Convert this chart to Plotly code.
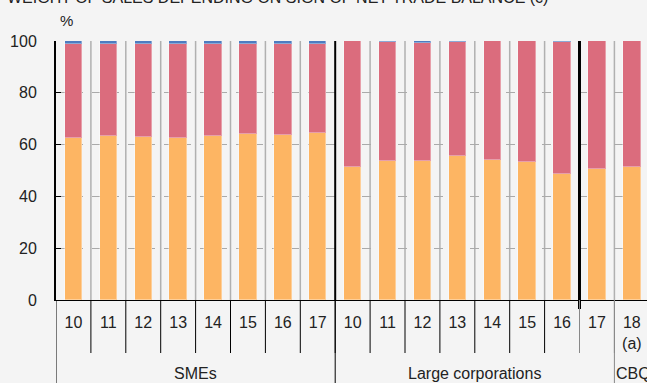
import plotly.graph_objects as go

# ---- data ----
year_labels = ["10", "11", "12", "13", "14", "15", "16", "17",
               "10", "11", "12", "13", "14", "15", "16", "17",
               "18<br>(a)"]
group_names = ["SMEs", "Large corporations", "CBQ"]
group_sizes = [8, 8, 1]

orange_vals = [62.6, 63.4, 62.8, 62.7, 63.2, 64.0, 63.6, 64.5,
               51.5, 53.8, 53.5, 55.7, 54.2, 53.2, 48.8, 50.7,
               51.5]
blue_vals = [1.3, 1.1, 1.3, 1.3, 1.1, 1.1, 1.1, 1.1,
             0.0, 0.2, 0.8, 0.2, 0.0, 0.0, 0.2, 0.1,
             0.0]
red_vals = [round(100 - o - b, 2) for o, b in zip(orange_vals, blue_vals)]
y_ticks = [0, 20, 40, 60, 80, 100]

# ---- style ----
BG = "#F4F4F4"
ORANGE = "#FDB563"
RED = "#DB6C7D"
BLUE = "#4D7CC0"
TXT = "#222222"
FONT = "Liberation Sans"

x = list(range(len(year_labels)))
fig = go.Figure()
for name, vals, col in [("Orange", orange_vals, ORANGE),
                        ("Red", red_vals, RED),
                        ("Blue", blue_vals, BLUE)]:
    fig.add_trace(go.Bar(x=x, y=vals, name=name, width=0.5,
                         marker=dict(color=col,
                                     line=dict(color="rgba(255,255,255,0.35)", width=1)),
                         showlegend=False))

W, H = 647, 383
L, R, T, B = 56, 0, 41, 83
plot_h = H - T - B

def py(pix):
    return (H - B - pix) / plot_h

shapes = []
n = len(year_labels)
# separators inside plot
for i in range(n - 1):
    b = i + 0.5
    if b in (7.5, 14.5):
        continue
    shapes.append(dict(type="line", xref="x", yref="paper", x0=b, x1=b, y0=0, y1=1,
                       line=dict(color="#B0B0B0", width=1.5), layer="below"))
shapes.append(dict(type="line", xref="x", yref="paper", x0=7.5, x1=7.5, y0=0, y1=1,
                   line=dict(color="black", width=2)))
shapes.append(dict(type="line", xref="x", yref="paper", x0=14.5, x1=14.5, y0=py(309), y1=1,
                   line=dict(color="black", width=3)))
# separators under the axis (year row)
for i in range(n - 1):
    b = i + 0.5
    col = "#888888" if b >= 14.5 else "black"
    shapes.append(dict(type="line", xref="x", yref="paper", x0=b, x1=b, y0=py(353), y1=0,
                       line=dict(color=col, width=1)))
# group dividers
pos = -0.5
for gi, s in enumerate(group_sizes):
    col = "#888888" if pos > 10 else "black"
    shapes.append(dict(type="line", xref="x", yref="paper", x0=pos, x1=pos, y0=py(H + 5), y1=0,
                       line=dict(color=col, width=1)))
    pos += s

annotations = []
pos = -0.5
for gname, s in zip(group_names, group_sizes):
    if gname == "CBQ":
        annotations.append(dict(x=pos, y=py(374), xref="x", yref="paper", text=gname,
                                showarrow=False, xanchor="left", yanchor="middle",
                                font=dict(size=16, color=TXT, family=FONT)))
    else:
        annotations.append(dict(x=pos + s / 2, y=py(374), xref="x", yref="paper", text=gname,
                                showarrow=False, xanchor="center", yanchor="middle",
                                font=dict(size=16, color=TXT, family=FONT)))
    pos += s

annotations.append(dict(x=(66 - L) / (W - L - R), y=py(21), xref="paper", yref="paper",
                        text="%", showarrow=False, xanchor="center", yanchor="middle",
                        font=dict(size=15, color=TXT, family=FONT)))
annotations.append(dict(x=(5 - L) / (W - L - R), y=py(8), xref="paper", yref="paper",
                        text="WEIGHT OF SALES DEPENDING ON SIGN OF NET TRADE BALANCE (c)",
                        showarrow=False, xanchor="left", yanchor="bottom",
                        font=dict(size=16, color=TXT, family=FONT)))

cell = 34.9
span = (W - L - R) / cell

fig.update_layout(
    width=W, height=H, autosize=False,
    margin=dict(l=L, r=R, t=T, b=B, pad=0),
    paper_bgcolor=BG, plot_bgcolor=BG,
    barmode="stack", bargap=0,
    font=dict(family=FONT, size=16, color=TXT),
    shapes=shapes, annotations=annotations,
    xaxis=dict(range=[-0.5, -0.5 + span], tickvals=x, ticktext=year_labels,
               showgrid=False, zeroline=False, showline=True, linecolor="black",
               linewidth=1, ticks="", ticklabelstandoff=8,
               tickfont=dict(size=16, color=TXT, family=FONT)),
    yaxis=dict(range=[0, 100], tickvals=y_ticks, showgrid=True, gridcolor="#AAAAAA",
               griddash="dash", gridwidth=1, zeroline=False, showline=True,
               linecolor="black", linewidth=2, ticks="inside", ticklen=5,
               tickcolor="black", ticklabelstandoff=14,
               tickfont=dict(size=16, color=TXT, family=FONT)),
)

fig.write_html("out.html", config={"displayModeBar": False},
               post_script="document.body.style.margin='0';document.body.style.overflow='hidden';document.documentElement.style.overflow='hidden';")
